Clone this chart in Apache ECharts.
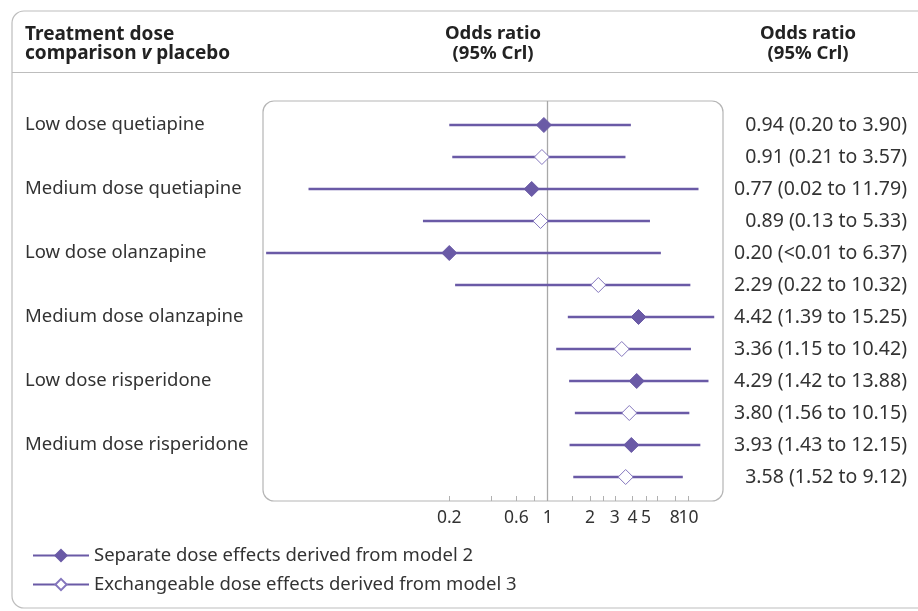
<!DOCTYPE html>
<html>
<head>
<meta charset="utf-8">
<title>Odds ratio forest plot</title>
<script src="https://cdn.jsdelivr.net/npm/echarts@6/dist/echarts.min.js"></script>
<style>
  html, body { margin: 0; padding: 0; background: #fff; }
  #chart { width: 918px; height: 611px; }
</style>
</head>
<body>
<div id="chart"></div>
<script>
// treatments, one pair of rows each (model 2 on top, model 3 below)
const treatments = ['Low dose quetiapine', 'Medium dose quetiapine', 'Low dose olanzapine',
                    'Medium dose olanzapine', 'Low dose risperidone', 'Medium dose risperidone'];

// separate dose effects (model 2)
const sepEst  = [0.94, 0.77, 0.20, 4.42, 4.29, 3.93];
const sepLow  = [0.20, 0.02, 0.01, 1.39, 1.42, 1.43];
const sepHigh = [3.90, 11.79, 6.37, 15.25, 13.88, 12.15];

// exchangeable dose effects (model 3)
const excEst  = [0.91, 0.89, 2.29, 3.36, 3.80, 3.58];
const excLow  = [0.21, 0.13, 0.22, 1.15, 1.56, 1.52];
const excHigh = [3.57, 5.33, 10.32, 10.42, 10.15, 9.12];

// text column on the right, row by row
const ciLabels = [
    '0.94 (0.20 to 3.90)', '0.91 (0.21 to 3.57)',
    '0.77 (0.02 to 11.79)', '0.89 (0.13 to 5.33)',
    '0.20 (<0.01 to 6.37)', '2.29 (0.22 to 10.32)',
    '4.42 (1.39 to 15.25)', '3.36 (1.15 to 10.42)',
    '4.29 (1.42 to 13.88)', '3.80 (1.56 to 10.15)',
    '3.93 (1.43 to 12.15)', '3.58 (1.52 to 9.12)'
];

const tickValues = [0.2, 0.4, 0.6, 0.8, 1, 1.5, 2, 2.5, 3, 4, 5, 6, 8, 10];
const tickLabels = [0.2, 0.6, 1, 2, 3, 4, 5, 8];
const tickLabelsEnd = [10]; // sits right against "8", own axis so it is not dropped

const seriesNames = ['Separate dose effects derived from model 2',
                     'Exchangeable dose effects derived from model 3'];

const purple = '#6a5aa6';
const font = '"Noto Sans", "Open Sans", sans-serif';

// one line series per model: lower - estimate - upper, broken between rows
function buildRows(est, low, high, offset) {
    let out = [];
    for (let i = 0; i < est.length; i++) {
        let row = i * 2 + offset;
        out.push({ value: [low[i], row], symbol: 'none' });
        out.push({ value: [est[i], row] });
        out.push({ value: [high[i], row], symbol: 'none' });
        out.push({ value: ['-', '-'] });
    }
    return out;
}

function xAxisFor(labels, withTicks) {
    return {
        type: 'log',
        logBase: 10,
        min: 0.0095,
        max: 17.6,
        position: 'bottom',
        offset: 0,
        axisLine: { show: false, onZero: false },
        splitLine: { show: false },
        axisTick: {
            show: withTicks,
            inside: true,
            length: 5,
            customValues: tickValues,
            lineStyle: { color: '#b0b0b0' }
        },
        axisLabel: {
            customValues: labels,
            hideOverlap: false,
            margin: 8,
            fontSize: 17.5,
            color: '#333',
            fontFamily: font,
            formatter: function (v) { return String(+(+v).toFixed(2)); }
        }
    };
}

let rowIdx = [];
for (let i = 0; i < 12; i++) rowIdx.push(i);

let chart = echarts.init(document.getElementById('chart'));
chart.setOption({
    animation: false,
    textStyle: { fontFamily: font },
    grid: { left: 263, right: 195, top: 101, bottom: 110 },
    xAxis: [xAxisFor(tickLabels, true), xAxisFor(tickLabelsEnd, false)],
    yAxis: [
        {
            type: 'value',
            min: -0.75,
            max: 11.75,
            inverse: true,
            position: 'left',
            axisLine: { show: false },
            axisTick: { show: false },
            splitLine: { show: false },
            axisLabel: {
                customValues: rowIdx,
                align: 'left',
                margin: 238,
                fontSize: 18.5,
                color: '#333',
                fontFamily: font,
                formatter: function (v) {
                    let i = Math.round(v);
                    return i % 2 === 0 ? treatments[i / 2] : '';
                }
            }
        },
        {
            type: 'value',
            min: -0.75,
            max: 11.75,
            inverse: true,
            position: 'right',
            axisLine: { show: false },
            axisTick: { show: false },
            splitLine: { show: false },
            axisLabel: {
                customValues: rowIdx,
                align: 'right',
                margin: 184,
                fontSize: 19.5,
                color: '#333',
                fontFamily: font,
                formatter: function (v) { return ciLabels[Math.round(v)]; }
            }
        }
    ],
    legend: {
        orient: 'vertical',
        left: 27,
        top: 541,
        itemWidth: 56,
        itemHeight: 14,
        itemGap: 10,
        textStyle: { fontSize: 18.5, color: '#333', fontFamily: font },
        data: seriesNames
    },
    graphic: [
        {   // outer frame
            type: 'rect',
            shape: { x: 12, y: 11, width: 920, height: 597, r: 12 },
            style: { fill: 'none', stroke: '#bdbdbd', lineWidth: 1.2 },
            silent: true
        },
        {   // header rule
            type: 'line',
            shape: { x1: 12, y1: 72.5, x2: 918, y2: 72.5 },
            style: { stroke: '#bdbdbd', lineWidth: 1.2 },
            silent: true
        },
        {   // plot box
            type: 'rect',
            shape: { x: 263, y: 101, width: 460, height: 400, r: 11 },
            style: { fill: 'none', stroke: '#b5b5b5', lineWidth: 1.2 },
            silent: true
        },
        {
            type: 'text', left: 25, top: 25,
            style: { text: 'Treatment dose', font: 'bold 19px ' + font, fill: '#222' }
        },
        {
            type: 'text', left: 25, top: 44,
            style: {
                text: '{n|comparison }{i|v}{n| placebo}',
                fill: '#222',
                rich: {
                    n: { font: 'bold 19px ' + font },
                    i: { font: 'italic bold 19px ' + font }
                }
            }
        },
        {
            type: 'text', x: 493, y: 24,
            style: { text: 'Odds ratio\n(95% Crl)', align: 'center', font: 'bold 18.5px ' + font, lineHeight: 19.5, fill: '#222' }
        },
        {
            type: 'text', x: 808, y: 24,
            style: { text: 'Odds ratio\n(95% Crl)', align: 'center', font: 'bold 18.5px ' + font, lineHeight: 19.5, fill: '#222' }
        }
    ],
    series: [
        {
            name: seriesNames[0],
            type: 'line',
            data: buildRows(sepEst, sepLow, sepHigh, 0),
            symbol: 'diamond',
            symbolSize: 15,
            showAllSymbol: true,
            connectNulls: false,
            lineStyle: { color: purple, width: 2.6 },
            itemStyle: { color: purple, borderColor: purple, borderWidth: 1 },
            z: 3,
            markLine: {
                silent: true,
                symbol: 'none',
                label: { show: false },
                lineStyle: { color: '#a8a8a8', width: 1.3, type: 'solid' },
                data: [{ xAxis: 1 }],
                z: 1
            }
        },
        {
            name: seriesNames[1],
            type: 'line',
            data: buildRows(excEst, excLow, excHigh, 1),
            symbol: 'diamond',
            symbolSize: 15,
            showAllSymbol: true,
            connectNulls: false,
            lineStyle: { color: purple, width: 2.6 },
            itemStyle: { color: '#fff', borderColor: '#8476bd', borderWidth: 1 },
            z: 3
        }
    ]
});
</script>
</body>
</html>
